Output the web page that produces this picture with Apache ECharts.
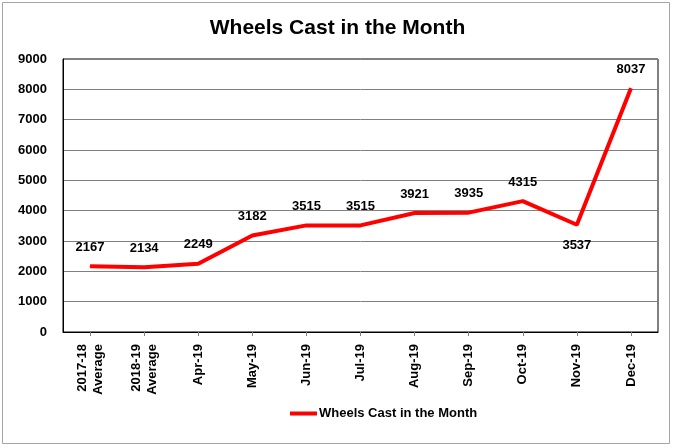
<!DOCTYPE html>
<html><head><meta charset="utf-8">
<script src="https://cdn.jsdelivr.net/npm/echarts@6/dist/echarts.min.js"></script>
<style>html,body{margin:0;padding:0;background:#fff}#c{width:675px;height:448px}</style>
</head><body><div id="c"></div>
<script>
const categories = ['2017-18\nAverage','2018-19\nAverage','Apr-19','May-19','Jun-19','Jul-19','Aug-19','Sep-19','Oct-19','Nov-19','Dec-19'];
const values = [2167, 2134, 2249, 3182, 3515, 3515, 3921, 3935, 4315, 3537, 8037];
const seriesName = 'Wheels Cast in the Month';
const chartTitle = 'Wheels Cast in the Month';

const font = 'Liberation Sans';
const chart = echarts.init(document.getElementById('c'));
chart.setOption({
  animation: false,
  backgroundColor: '#fff',
  graphic: [{type:'rect', shape:{x:2.5,y:2.5,width:667,height:441}, style:{fill:'none', stroke:'#a6a6a6', lineWidth:1}, silent:true}],
  title: {text: chartTitle, left: 'center', top: 13, textStyle:{fontFamily:font, fontWeight:'bold', fontSize:21, color:'#000'}},
  legend: {top: 402, left: 285, icon:'rect', itemWidth:27, itemHeight:4, itemGap:4,
    textStyle:{fontFamily:font, fontWeight:'bold', fontSize:13, color:'#000', padding:[0,0,0,-3]}},
  grid: {left: 63, right: 17, top: 59, bottom: 116, show:true, borderColor:'#000', borderWidth:1},
  xAxis: {type:'category', data: categories, boundaryGap:true,
    axisLine:{lineStyle:{color:'#000'}},
    axisTick:{show:true, alignWithLabel:true, length:4, lineStyle:{color:'#808080'}},
    axisLabel:{rotate:90, interval:0, margin:12, fontFamily:font, fontWeight:'bold', fontSize:13, color:'#000', lineHeight:16}},
  yAxis: {type:'value', min:0, max:9000, interval:1000,
    axisLine:{show:true, lineStyle:{color:'#000'}}, axisTick:{show:false},
    splitLine:{lineStyle:{color:'#808080'}},
    axisLabel:{margin:16, formatter: v => String(v), fontFamily:font, fontWeight:'bold', fontSize:13, color:'#000'}},
  series: [{name: seriesName, type:'line', data: values.map((v,i)=> i===9 ? {value:v, label:{position:'bottom', distance:14}} : v),
    showSymbol:true, symbol:'circle', symbolSize:1, color:'#ff0000',
    itemStyle:{color:'#ff0000'},
    lineStyle:{color:'#ff0000', width:4},
    label:{show:true, position:'top', distance:12, fontFamily:font, fontWeight:'bold', fontSize:13, color:'#000'}}]
});
</script></body></html>
